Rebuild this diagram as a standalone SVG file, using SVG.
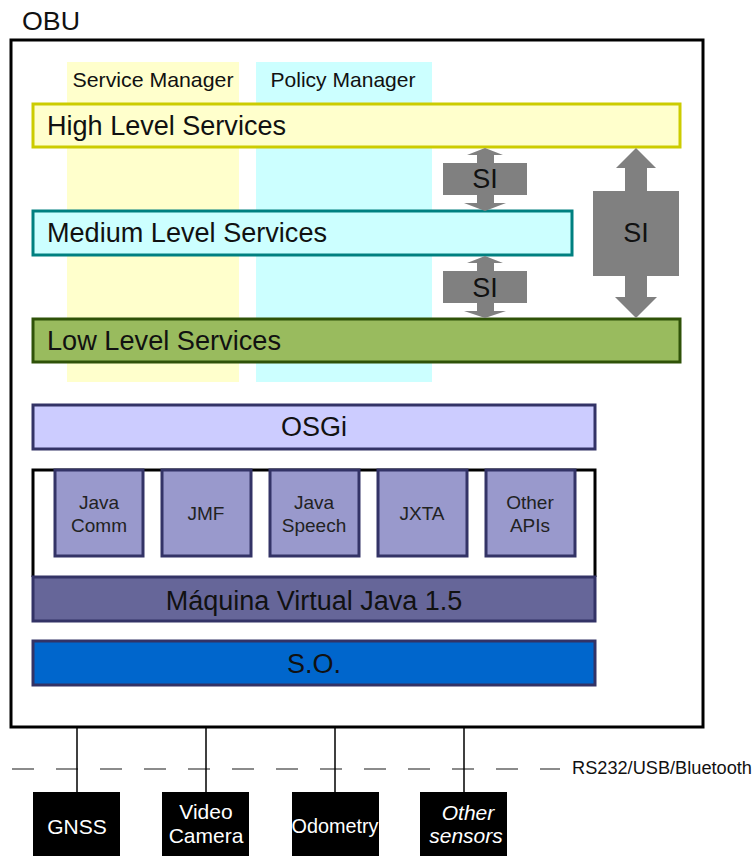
<svg xmlns="http://www.w3.org/2000/svg" width="752" height="857" viewBox="0 0 752 857">
  <defs>
    <style>
      text { font-family: "Liberation Sans", Arial, sans-serif; fill: #111; }
      .lvl { font-size: 27px; }
      .mid { text-anchor: middle; }
      .col { font-size: 21px; text-anchor: middle; }
      .api { fill: #9999CC; stroke: #333366; stroke-width: 3; }
      .apit { font-size: 19px; text-anchor: middle; fill: #222; }
      .si { fill: #808080; }
      .sit { font-size: 27px; text-anchor: middle; }
      .sensor { fill: #000; }
      .sent { fill: #fff; text-anchor: middle; font-size: 21px; }
      .wire { stroke: #000; stroke-width: 1.5; fill: none; }
    </style>
  </defs>

  <rect x="0" y="0" width="752" height="857" fill="#fff"/>

  <!-- OBU enclosure -->
  <g id="obu">
    <text x="22" y="30" font-size="26" textLength="58" lengthAdjust="spacingAndGlyphs">OBU</text>
    <rect x="11" y="40" width="692" height="687" fill="#fff" stroke="#000" stroke-width="3"/>
  </g>

  <!-- manager columns -->
  <g id="service-manager">
    <rect x="67" y="62" width="172" height="320" fill="#FFFFCC"/>
    <text class="col" x="153" y="87" textLength="161" lengthAdjust="spacingAndGlyphs">Service Manager</text>
  </g>
  <g id="policy-manager">
    <rect x="256" y="62" width="176" height="320" fill="#CCFFFF"/>
    <text class="col" x="343" y="87" textLength="145" lengthAdjust="spacingAndGlyphs">Policy Manager</text>
  </g>

  <!-- service levels -->
  <g id="high-level">
    <rect x="33" y="104" width="647" height="43" fill="#FFFFCC" stroke="#CCCC00" stroke-width="3"/>
    <text class="lvl" x="47" y="135" textLength="239" lengthAdjust="spacingAndGlyphs">High Level Services</text>
  </g>
  <g id="medium-level">
    <rect x="33" y="211" width="539" height="44" fill="#CCFFFF" stroke="#008080" stroke-width="3"/>
    <text class="lvl" x="47" y="242" textLength="280" lengthAdjust="spacingAndGlyphs">Medium Level Services</text>
  </g>
  <g id="low-level">
    <rect x="33" y="319" width="647" height="43" fill="#99BB5E" stroke="#2F5208" stroke-width="3"/>
    <text class="lvl" x="47" y="350" textLength="234" lengthAdjust="spacingAndGlyphs">Low Level Services</text>
  </g>

  <!-- SI interfaces (up-down arrow callouts) -->
  <g id="si-high-medium">
    <path class="si" d="M485,148 L503,155 L494,155 L494,163 L527,163 L527,195 L494,195 L494,203 L506,203 L485,211 L464,203 L477,203 L477,195 L443,195 L443,163 L477,163 L477,155 L467,155 Z"/>
    <text class="sit" x="485" y="188">SI</text>
  </g>
  <g id="si-medium-low">
    <path class="si" d="M485,256 L503,263 L494,263 L494,271 L527,271 L527,303 L494,303 L494,311 L506,311 L485,318 L464,311 L477,311 L477,303 L443,303 L443,271 L477,271 L477,263 L467,263 Z"/>
    <text class="sit" x="485" y="297">SI</text>
  </g>
  <g id="si-high-low">
    <path class="si" d="M636,148 L656,168 L647,168 L647,191 L679,191 L679,276 L647,276 L647,297 L657,297 L636,318 L615,297 L625,297 L625,276 L593,276 L593,191 L625,191 L625,168 L616,168 Z"/>
    <text class="sit" x="636" y="242">SI</text>
  </g>

  <!-- platform stack -->
  <g id="osgi">
    <rect x="33" y="405" width="562" height="44" fill="#CCCCFF" stroke="#333366" stroke-width="3"/>
    <text class="lvl mid" x="314" y="436">OSGi</text>
  </g>

  <g id="api-frame">
    <path d="M33,577 L33,470 L595,470 L595,577" fill="#fff" stroke="#000" stroke-width="3"/>
  </g>
  <g id="java-comm">
    <rect class="api" x="55" y="470" width="88" height="86"/>
    <text class="apit" x="99" y="509">Java</text>
    <text class="apit" x="99" y="532">Comm</text>
  </g>
  <g id="jmf">
    <rect class="api" x="162" y="470" width="89" height="86"/>
    <text class="apit" x="206" y="520">JMF</text>
  </g>
  <g id="java-speech">
    <rect class="api" x="270" y="470" width="89" height="86"/>
    <text class="apit" x="314" y="509">Java</text>
    <text class="apit" x="314" y="532">Speech</text>
  </g>
  <g id="jxta">
    <rect class="api" x="378" y="470" width="89" height="86"/>
    <text class="apit" x="422" y="520">JXTA</text>
  </g>
  <g id="other-apis">
    <rect class="api" x="486" y="470" width="89" height="86"/>
    <text class="apit" x="530" y="509">Other</text>
    <text class="apit" x="530" y="532">APIs</text>
  </g>

  <g id="jvm">
    <rect x="33" y="577" width="562" height="44" fill="#666699" stroke="#333366" stroke-width="3"/>
    <text class="lvl mid" x="314" y="610">Máquina Virtual Java 1.5</text>
  </g>
  <g id="os">
    <rect x="33" y="641" width="562" height="44" fill="#0066CC" stroke="#333366" stroke-width="3"/>
    <text class="lvl mid" x="314" y="673">S.O.</text>
  </g>

  <!-- bus and sensor links -->
  <g id="connectors">
    <line x1="12" y1="769" x2="560" y2="769" stroke="#666" stroke-width="1.5" stroke-dasharray="22,22"/>
    <line class="wire" x1="77" y1="728" x2="77" y2="792"/>
    <line class="wire" x1="206" y1="728" x2="206" y2="792"/>
    <line class="wire" x1="335" y1="728" x2="335" y2="792"/>
    <line class="wire" x1="464" y1="728" x2="464" y2="792"/>
  </g>
  <text x="572" y="774" font-size="18" fill="#222" textLength="180" lengthAdjust="spacingAndGlyphs">RS232/USB/Bluetooth</text>

  <!-- external sensors -->
  <g id="gnss">
    <rect class="sensor" x="33" y="792" width="87" height="64"/>
    <text class="sent" x="77" y="834">GNSS</text>
  </g>
  <g id="video-camera">
    <rect class="sensor" x="162" y="792" width="87" height="64"/>
    <text class="sent" x="206" y="819">Video</text>
    <text class="sent" x="206" y="843">Camera</text>
  </g>
  <g id="odometry">
    <rect class="sensor" x="292" y="792" width="87" height="64"/>
    <text class="sent" x="335" y="833" font-size="19" textLength="87" lengthAdjust="spacingAndGlyphs">Odometry</text>
  </g>
  <g id="other-sensors">
    <rect class="sensor" x="420" y="792" width="87" height="64"/>
    <text class="sent" x="468" y="820" font-style="italic" font-size="19">Other</text>
    <text class="sent" x="466" y="843" font-style="italic" font-size="19">sensors</text>
  </g>
</svg>
